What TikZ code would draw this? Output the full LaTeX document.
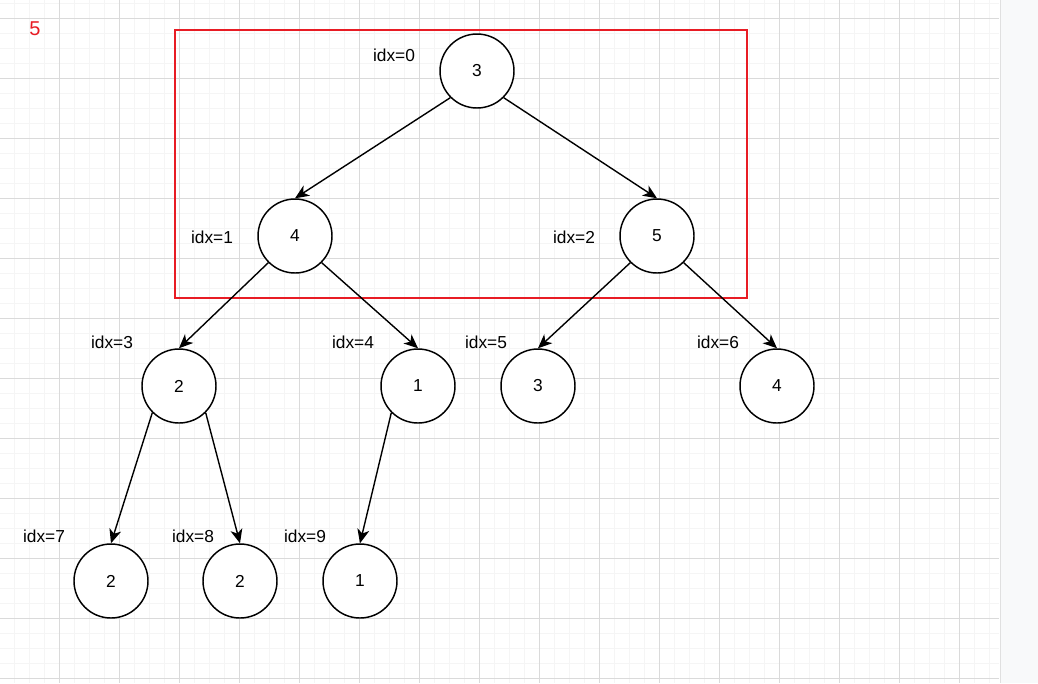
\documentclass[tikz,border=0pt]{standalone}
\usepackage{fontspec}
\setmainfont{Liberation Sans}
\usetikzlibrary{arrows.meta}
\definecolor{gmajor}{RGB}{218,218,218}
\definecolor{gminor}{RGB}{245,245,245}
\definecolor{sidebg}{RGB}{248,249,250}
\definecolor{boxred}{RGB}{232,28,36}
\tikzset{
  tnode/.style={circle,draw=black,fill=white,line width=1.1pt,minimum size=55.5pt,inner sep=0pt,font=\fontsize{13pt}{14pt}\selectfont},
  lab/.style={inner sep=0pt,font=\fontsize{13pt}{14pt}\selectfont},
  edge/.style={line width=1.05pt,-{Stealth[length=10.5pt,width=9pt,inset=3pt]}},
}
\begin{document}
\begin{tikzpicture}[x=0.75pt,y=-0.75pt]
\useasboundingbox (0,0) rectangle (1038,683);
\fill[white] (0,0) rectangle (1000,683);
\fill[sidebg] (1000,0) rectangle (1038,683);
\draw[black!12,line width=1pt] (1000.5,0) -- (1000.5,683);
% minor grid
\foreach \x in {14,29,44,74,89,104,134,149,164,194,209,224,254,269,284,314,329,344,374,389,404,434,449,464,494,509,524,554,569,584,614,629,644,674,689,704,734,749,764,794,809,824,854,869,884,914,929,944,974,989}
  \draw[gminor,line width=0.75pt] (\x,0) -- (\x,683);
\foreach \y in {3,33,48,63,93,108,123,153,168,183,213,228,243,273,288,303,333,348,363,393,408,423,453,468,483,513,528,543,573,588,603,633,648,663}
  \draw[gminor,line width=0.75pt] (0,\y) -- (999,\y);
% major grid
\foreach \x in {59,119,...,959}
  \draw[gmajor,line width=0.75pt] (\x,0) -- (\x,683);
\foreach \y in {18,78,...,678}
  \draw[gmajor,line width=0.75pt] (0,\y) -- (999,\y);

% red box and label
\draw[boxred,line width=1.5pt] (175,30) rectangle (747,298);
\node[lab,text=boxred,font=\fontsize{15pt}{16pt}\selectfont] (five) at (35,29) {5};

% tree nodes
\node[tnode] (n0) at (477,71) {3};
\node[tnode] (n1) at (295,236) {4};
\node[tnode] (n2) at (657,236) {5};
\node[tnode] (n3) at (179,386) {2};
\node[tnode] (n4) at (418,386) {1};
\node[tnode] (n5) at (538,386) {3};
\node[tnode] (n6) at (777,386) {4};
\node[tnode] (n7) at (111,581) {2};
\node[tnode] (n8) at (240,581) {2};
\node[tnode] (n9) at (360,581) {1};

% index labels
\node[lab] (l0) at (394,55) {idx=0};
\node[lab] (l1) at (212,237) {idx=1};
\node[lab] (l2) at (574,237) {idx=2};
\node[lab] (l3) at (112,342) {idx=3};
\node[lab] (l4) at (353,342) {idx=4};
\node[lab] (l5) at (486,342) {idx=5};
\node[lab] (l6) at (718,342) {idx=6};
\node[lab] (l7) at (44,536) {idx=7};
\node[lab] (l8) at (193,536) {idx=8};
\node[lab] (l9) at (305,536) {idx=9};

% edges
\draw[edge] (n0.south west) -- (n1.north);
\draw[edge] (n0.south east) -- (n2.north);
\draw[edge] (n1.south west) -- (n3.north);
\draw[edge] (n1.south east) -- (n4.north);
\draw[edge] (n2.south west) -- (n5.north);
\draw[edge] (n2.south east) -- (n6.north);
\draw[edge] (n3.south west) -- (n7.north);
\draw[edge] (n3.south east) -- (n8.north);
\draw[edge] (n4.south west) -- (n9.north);
\end{tikzpicture}
\end{document}
